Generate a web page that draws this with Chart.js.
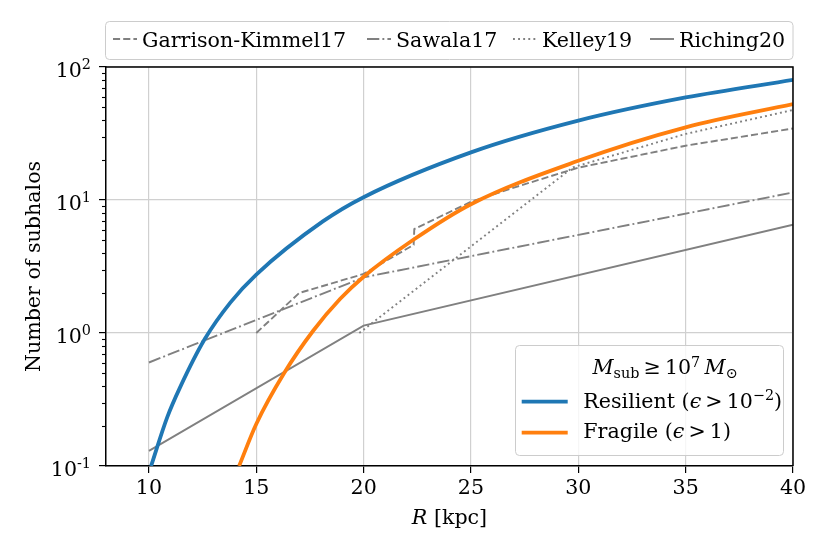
<!DOCTYPE html>
<html>
<head>
<meta charset="utf-8">
<script src="https://cdn.jsdelivr.net/npm/chart.js@4.4.0/dist/chart.umd.min.js"></script>
<style>
  body { margin: 0; background: #fff; }
  canvas { display: block; }
</style>
</head>
<body>
<canvas id="c" width="830" height="554"></canvas>
<script>
// values (R in kpc, number of subhalos)
const resilientR = [10.1, 10.85, 11.45, 12.6, 13.8, 15, 18.1, 20, 25, 30, 35, 40];
const resilientN = [0.1, 0.232, 0.39, 0.90, 1.70, 2.75, 6.9, 10.5, 22.8, 39.5, 59, 80];

const fragileR = [14.2, 15, 16.3, 17.65, 18.9, 20, 22.3, 25, 30, 35, 40];
const fragileN = [0.1, 0.207, 0.5, 1.04, 1.80, 2.65, 5.0, 9.3, 19.7, 35.2, 52.6];

const gkR = [15, 17, 20, 22.33, 22.36, 25, 27, 30, 35, 40];
const gkN = [1.0, 2.0, 2.78, 4.6, 6.05, 9.7, 12.4, 17.5, 25.6, 34.5];

const sawalaR = [10, 20, 40];
const sawalaN = [0.6, 2.62, 11.4];

const kelleyR = [19.8, 29.75, 35, 40];
const kelleyN = [1.0, 17.6, 31.4, 47.5];

const richingR = [10, 20, 40];
const richingN = [0.13, 1.135, 6.52];

const xTicks = [10, 15, 20, 25, 30, 35, 40];
const yMajor = [0.1, 1, 10, 100];
const yMajorExp = ['-1', '0', '1', '2'];
const yMinor = [0.2, 0.3, 0.4, 0.5, 0.6, 0.7, 0.8, 0.9,
                2, 3, 4, 5, 6, 7, 8, 9,
                20, 30, 40, 50, 60, 70, 80, 90];

const topLabels = ['Garrison-Kimmel17', 'Sawala17', 'Kelley19', 'Riching20'];

const BLUE = '#1f77b4', ORANGE = '#ff7f0e', GRAY = '#808080';
const GRID = '#d0d0d0';
const FONT = '"DejaVu Serif"';
const FS = 20.6, FSS = 14.4;
const TS = '\u2009';
const DASHED = [7.1, 3.1], DASHDOT = [12.3, 3.1, 1.9, 3.1], DOTTED = [1.9, 3.2];
const grayDash = [DASHED, DASHDOT, DOTTED, []];

function pts(xs, ys) {
  return xs.map((x, i) => ({x: x, y: ys[i]}));
}

function majorIndex(v) {
  return yMajor.findIndex(m => Math.abs(m - v) / m < 1e-6);
}

function setFont(ctx, p) {
  ctx.font = (p.it ? 'italic ' : '') + (p.s || FS) + 'px ' + FONT;
}

// width of a sequence of text runs
function runsWidth(ctx, parts) {
  let w = 0;
  parts.forEach(p => { setFont(ctx, p); w += ctx.measureText(p.t).width; });
  return w;
}

// draws a sequence of text runs (for the math bits)
function runs(ctx, x, y, parts) {
  parts.forEach(p => {
    setFont(ctx, p);
    ctx.fillText(p.t, x, y + (p.dy || 0));
    x += ctx.measureText(p.t).width;
  });
  return x;
}

function legendBox(ctx, x, y, w, h) {
  ctx.beginPath();
  ctx.roundRect(x, y, w, h, 4);
  ctx.fillStyle = 'rgba(255,255,255,0.8)';
  ctx.fill();
  ctx.strokeStyle = '#cccccc';
  ctx.lineWidth = 1;
  ctx.stroke();
}

const decor = {
  id: 'decor',
  afterDraw(chart) {
    const {ctx, chartArea: a, scales} = chart;
    ctx.save();

    // top and right spines
    ctx.strokeStyle = '#000';
    ctx.lineWidth = 1.5;
    ctx.beginPath();
    ctx.moveTo(a.left, a.top);
    ctx.lineTo(a.right, a.top);
    ctx.lineTo(a.right, a.bottom);
    ctx.stroke();

    // minor ticks on the log axis
    ctx.lineWidth = 1.1;
    yMinor.forEach(v => {
      const py = Math.round(scales.y.getPixelForValue(v)) + 0.5;
      ctx.beginPath();
      ctx.moveTo(a.left - 4, py);
      ctx.lineTo(a.left, py);
      ctx.stroke();
    });

    ctx.fillStyle = '#000';
    ctx.textBaseline = 'alphabetic';
    ctx.textAlign = 'left';

    // log tick labels 10^n
    yMajor.forEach((v, i) => {
      const py = scales.y.getPixelForValue(v);
      const parts = [{t: '10'}, {t: yMajorExp[i], s: FSS, dy: -7.5}];
      runs(ctx, 91 - runsWidth(ctx, parts), py + 9.5, parts);
    });

    // axis titles
    ctx.font = FS + 'px ' + FONT;
    ctx.save();
    ctx.translate(40, (a.top + a.bottom) / 2);
    ctx.rotate(-Math.PI / 2);
    ctx.textAlign = 'center';
    ctx.fillText('Number of subhalos', 0, 0);
    ctx.restore();

    const xt = [{t: 'R', it: true}, {t: ' [kpc]'}];
    runs(ctx, (a.left + a.right) / 2 - runsWidth(ctx, xt) / 2, 524, xt);

    // top legend
    legendBox(ctx, 105.5, 21.5, a.right - 105.5, 38);
    const hx = [113, 367, 513, 650];
    topLabels.forEach((lab, i) => {
      ctx.strokeStyle = GRAY;
      ctx.lineWidth = 1.9;
      ctx.setLineDash(grayDash[i]);
      ctx.beginPath();
      ctx.moveTo(hx[i], 39);
      ctx.lineTo(hx[i] + 24, 39);
      ctx.stroke();
      ctx.setLineDash([]);
      ctx.fillStyle = '#000';
      ctx.font = FS + 'px ' + FONT;
      ctx.fillText(lab, hx[i] + 29, 46.7);
    });

    // inner legend
    legendBox(ctx, 515.5, 345.5, 268, 110);
    ctx.fillStyle = '#000';
    const title = [
      {t: 'M', it: true}, {t: 'sub', s: FSS, dy: 4}, {t: TS + '≥' + TS}, {t: '10'},
      {t: '7', s: FSS, dy: -7.5}, {t: TS}, {t: 'M', it: true}, {t: '⊙', s: FSS, dy: 4}
    ];
    runs(ctx, 665 - runsWidth(ctx, title) / 2, 374, title);
    [[BLUE, 401.7, 407.7, [{t: 'Resilient ('}, {t: 'ϵ', it: true}, {t: TS + '>' + TS + '10'}, {t: '−2', s: FSS, dy: -7.5}, {t: ')'}]],
     [ORANGE, 432.7, 438.3, [{t: 'Fragile ('}, {t: 'ϵ', it: true}, {t: TS + '>' + TS + '1)'}]]
    ].forEach(([col, ly, ty, parts]) => {
      ctx.strokeStyle = col;
      ctx.lineWidth = 3.8;
      ctx.beginPath();
      ctx.moveTo(521.7, ly);
      ctx.lineTo(567.7, ly);
      ctx.stroke();
      ctx.fillStyle = '#000';
      runs(ctx, 583.3, ty, parts);
    });

    ctx.restore();
  }
};

const grayLine = (label, xs, ys, dash) => ({
  label: label,
  data: pts(xs, ys),
  borderColor: GRAY,
  borderWidth: 1.9,
  borderDash: dash,
  pointRadius: 0,
  tension: 0,
  fill: false
});

new Chart(document.getElementById('c'), {
  type: 'line',
  data: {
    datasets: [
      {label: 'Resilient', data: pts(resilientR, resilientN), borderColor: BLUE, borderWidth: 3.8,
       pointRadius: 0, cubicInterpolationMode: 'monotone', fill: false},
      {label: 'Fragile', data: pts(fragileR, fragileN), borderColor: ORANGE, borderWidth: 3.8,
       pointRadius: 0, cubicInterpolationMode: 'monotone', fill: false},
      grayLine(topLabels[0], gkR, gkN, DASHED),
      grayLine(topLabels[1], sawalaR, sawalaN, DASHDOT),
      grayLine(topLabels[2], kelleyR, kelleyN, DOTTED),
      grayLine(topLabels[3], richingR, richingN, [])
    ]
  },
  options: {
    responsive: false,
    animation: false,
    layout: { padding: {top: 67, right: 37, left: 0, bottom: 0} },
    scales: {
      x: {
        type: 'linear',
        min: 8,
        max: 40,
        afterBuildTicks: s => { s.ticks = xTicks.map(v => ({value: v})); },
        afterFit: s => { s.height = 88; },
        grid: { color: GRID, tickColor: '#000', lineWidth: 1.2, tickLength: 7 },
        border: { color: '#000', width: 1.5 },
        ticks: { font: {family: 'DejaVu Serif', size: FS}, color: '#000', padding: 3,
                 maxRotation: 0, autoSkip: false }
      },
      y: {
        type: 'logarithmic',
        min: 0.1,
        max: 100,
        afterBuildTicks: s => {
          s.ticks = yMajor.concat(yMinor).sort((p, q) => p - q).map(v => ({value: v}));
        },
        afterFit: s => { s.width = 106; },
        grid: {
          color: c => (c.tick && majorIndex(c.tick.value) >= 0) ? GRID : 'rgba(0,0,0,0)',
          tickColor: c => (c.tick && majorIndex(c.tick.value) >= 0) ? '#000' : 'rgba(0,0,0,0)',
          lineWidth: 1.2,
          tickLength: 7
        },
        border: { color: '#000', width: 1.5 },
        ticks: { display: false }
      }
    },
    plugins: {
      legend: { display: false },
      tooltip: { enabled: false }
    }
  },
  plugins: [decor]
});
</script>
</body>
</html>
